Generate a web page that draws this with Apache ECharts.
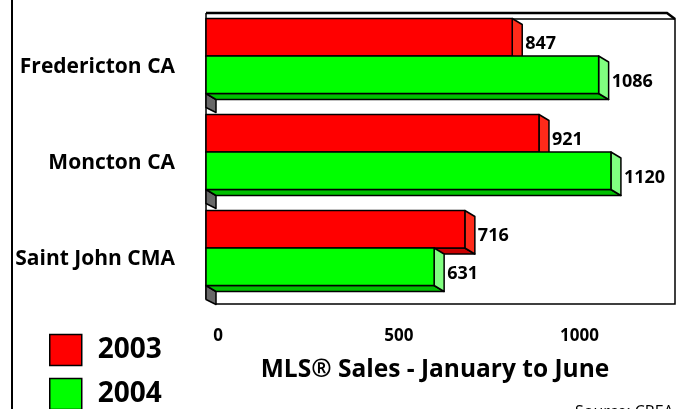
<!DOCTYPE html>
<html>
<head>
<meta charset="utf-8">
<script src="https://cdn.jsdelivr.net/npm/echarts@6/dist/echarts.min.js"></script>
<style>
  html, body { margin: 0; padding: 0; background: #fff; }
  #chart { width: 679px; height: 409px; }
</style>
</head>
<body>
<div id="chart"></div>
<script>
const categories = ['Fredericton CA', 'Moncton CA', 'Saint John CMA'];
const years = ['2003', '2004'];
const sales2003 = [847, 921, 716];
const sales2004 = [1086, 1120, 631];
const xMax = 1300;
const xStep = 500;

const FONT = 'Open Sans';
const DX = 10, DY = 6;      // fake 3d depth of the bars
const BAR_H = 37.5;
const GL = 206, GT = 19, GW = 470, GH = 288;

const faces = [
    { front: '#ff0000', side: '#ff2a1a', bottom: '#c80000' },
    { front: '#00ff00', side: '#80ff80', bottom: '#00c000' }
];

function barItem(si) {
    return function (params, api) {
        const val = api.value(0);
        const cat = api.value(1);
        const end = api.coord([val, cat]);
        const start = api.coord([0, cat]);
        const band = api.size([0, 1])[1];
        const x0 = start[0], x1 = end[0];
        const yt = end[1] - band / 2 - 0.5 + si * BAR_H;
        const yb = yt + BAR_H;
        const c = faces[si];
        const line = { stroke: '#000', lineWidth: 1.5, lineJoin: 'round' };
        const children = [];
        if (si === 1) {
            // bit of grey side wall showing under the group
            children.push({
                type: 'polygon',
                shape: { points: [[x0, yb], [x0 + DX, yb + DY], [x0 + DX, yb + DY + 13], [x0, yb + 14]] },
                style: Object.assign({ fill: '#686868' }, line)
            });
        }
        children.push(
            {
                type: 'polygon',
                shape: { points: [[x0, yb], [x1, yb], [x1 + DX, yb + DY], [x0 + DX, yb + DY]] },
                style: Object.assign({ fill: c.bottom }, line)
            },
            {
                type: 'polygon',
                shape: { points: [[x1, yt], [x1 + DX, yt + DY], [x1 + DX, yb + DY], [x1, yb]] },
                style: Object.assign({ fill: c.side }, line)
            },
            {
                type: 'rect',
                shape: { x: x0, y: yt, width: x1 - x0, height: BAR_H },
                style: Object.assign({ fill: c.front }, line)
            },
            {
                type: 'text',
                x: x1 + DX + 3,
                y: (yt + yb) / 2 + 7,
                style: {
                    text: String(val),
                    fill: '#000',
                    font: 'bold 18px "' + FONT + '"',
                    align: 'left',
                    verticalAlign: 'middle'
                }
            }
        );
        return { type: 'group', children: children };
    };
}

const chart = echarts.init(document.getElementById('chart'));

const frameLine = { stroke: '#000', lineWidth: 1.5, fill: null };

// one legend box per year so they stack like the original
const legendTops = [333, 377];
const legends = years.map(function (y, i) {
    return {
        orient: 'vertical',
        left: 49,
        top: legendTops[i],
        padding: 0,
        itemWidth: 32,
        itemHeight: 31,
        icon: 'rect',
        selectedMode: false,
        data: [y],
        itemStyle: { borderColor: '#000', borderWidth: 1.5 },
        textStyle: {
            fontFamily: FONT, fontWeight: 'bold', fontSize: 28, lineHeight: 30,
            color: '#000', padding: [4, 0, 0, 11]
        }
    };
});

const option = {
    animation: false,
    backgroundColor: '#fff',
    textStyle: { fontFamily: FONT },
    grid: { left: GL, top: GT, width: GW, height: GH, show: false },
    legend: legends,
    xAxis: {
        type: 'value',
        min: 0,
        max: xMax,
        interval: xStep,
        axisLine: { show: false },
        axisTick: { show: false },
        splitLine: { show: false },
        axisLabel: {
            showMaxLabel: false,
            formatter: function (v) { return String(v); },
            fontSize: 17,
            fontWeight: 'bold',
            color: '#000',
            margin: 21,
            padding: [0, 0, 0, 24]
        },
        name: 'MLS® Sales - January to June',
        nameLocation: 'middle',
        nameGap: 51,
        nameTextStyle: { fontSize: 24.5, fontWeight: 'bold', color: '#000', padding: [0, 12, 0, 0] }
    },
    yAxis: {
        type: 'category',
        inverse: true,
        data: categories,
        axisLine: { show: false },
        axisTick: { show: false },
        axisLabel: {
            fontSize: 21,
            fontWeight: 'bold',
            color: '#000',
            margin: 31,
            padding: [0, 0, 8, 0]
        }
    },
    series: [sales2003, sales2004].map(function (vals, si) {
        return {
            name: years[si],
            type: 'custom',
            itemStyle: { color: faces[si].front },
            encode: { x: 0, y: 1 },
            data: vals.map(function (v, i) { return [v, i]; }),
            renderItem: barItem(si)
        };
    }),
    graphic: [
        { type: 'line', shape: { x1: 12, y1: 0, x2: 12, y2: 409 }, style: { stroke: '#000', lineWidth: 2 } },
        // plot box drawn as a shallow 3d frame
        { type: 'polyline', shape: { points: [[GL, GT - 6], [GL + GW - 9, GT - 6], [GL + GW - 1, GT]] }, style: { stroke: '#000', lineWidth: 2.5, fill: null } },
        { type: 'polyline', shape: { points: [[GL, GT], [GL + GW - 1, GT], [GL + GW - 1, GT + GH - 3], [GL + DX, GT + GH - 3]] }, style: frameLine },
        { type: 'line', shape: { x1: GL, y1: GT - 6, x2: GL, y2: GT + GH - 8 }, style: frameLine },
        {
            type: 'text', left: 575, top: 404,
            style: { text: 'Source: CREA', font: '16px "' + FONT + '"', fill: '#000' }
        }
    ]
};

chart.setOption(option);
</script>
</body>
</html>
